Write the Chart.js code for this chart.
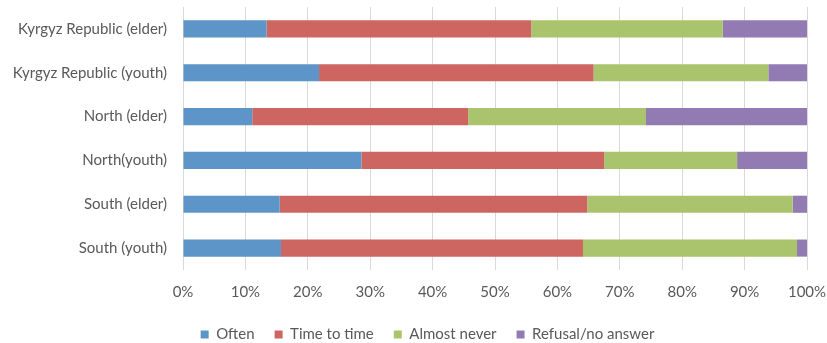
<!DOCTYPE html>
<html>
<head>
<meta charset="utf-8">
<script src="https://cdn.jsdelivr.net/npm/chart.js@4"></script>
<style>
  html, body { margin: 0; padding: 0; background: #fff; }
  #wrap { width: 827px; height: 343px; position: relative; }
</style>
</head>
<body>
<div id="wrap"><canvas id="chart"></canvas></div>
<script>
const categories = [
  'Kyrgyz Republic (elder)',
  'Kyrgyz Republic (youth)',
  'North (elder)',
  'North(youth)',
  'South (elder)',
  'South (youth)'
];
const often = [13.4, 21.8, 11.1, 28.6, 15.5, 15.7];
const timeToTime = [42.4, 44.0, 34.6, 38.9, 49.3, 48.4];
const almostNever = [30.7, 28.0, 28.5, 21.3, 32.9, 34.3];
const refusal = [13.5, 6.2, 25.8, 11.2, 2.3, 1.6];
const xTicks = [0, 10, 20, 30, 40, 50, 60, 70, 80, 90, 100];

const fontFamily = 'Lato, "Open Sans", sans-serif';
const textColor = '#595959';

const makeSet = (label, data, color) => ({
  label,
  data,
  backgroundColor: color,
  borderWidth: 0,
  barPercentage: 0.39,
  categoryPercentage: 1.0
});

// the original legend sits a bit right of the canvas centre
const legendShift = {
  id: 'legendShift',
  afterLayout(chart) {
    chart.legend.left += 24;
    chart.legend.right += 24;
  }
};

new Chart(document.getElementById('chart'), {
  type: 'bar',
  data: {
    labels: categories,
    datasets: [
      makeSet('Often', often, '#5E95C8'),
      makeSet('Time to time', timeToTime, '#CD6660'),
      makeSet('Almost never', almostNever, '#AAC46D'),
      makeSet('Refusal/no answer', refusal, '#927BB2')
    ]
  },
  options: {
    indexAxis: 'y',
    responsive: true,
    maintainAspectRatio: false,
    animation: false,
    layout: { padding: { top: 7, right: 20, left: 0, bottom: -9 } },
    scales: {
      x: {
        stacked: true,
        min: 0,
        max: 100,
        afterBuildTicks: (scale) => {
          scale.ticks = xTicks.map(v => ({ value: v }));
        },
        afterFit: (scale) => {
          scale.height = 37;
          scale.paddingRight = 0;
          scale.paddingLeft = 0;
        },
        grid: {
          color: '#D9D9D9',
          lineWidth: 1,
          drawTicks: false
        },
        border: { display: false },
        ticks: {
          color: textColor,
          font: { family: fontFamily, size: 15 },
          padding: 13,
          maxRotation: 0,
          callback: (v) => v + '%'
        }
      },
      y: {
        stacked: true,
        grid: { display: false, drawTicks: false },
        border: { display: false },
        afterFit: (scale) => {
          scale.width = 183;
          scale.paddingTop = 0;
          scale.paddingBottom = 0;
        },
        ticks: {
          color: textColor,
          font: { family: fontFamily, size: 15 },
          padding: 16
        }
      }
    },
    plugins: {
      legend: {
        position: 'bottom',
        labels: {
          color: textColor,
          font: { family: fontFamily, size: 15 },
          boxWidth: 8,
          boxHeight: 8,
          padding: 20
        }
      },
      tooltip: { enabled: false }
    }
  },
  plugins: [legendShift]
});
</script>
</body>
</html>
